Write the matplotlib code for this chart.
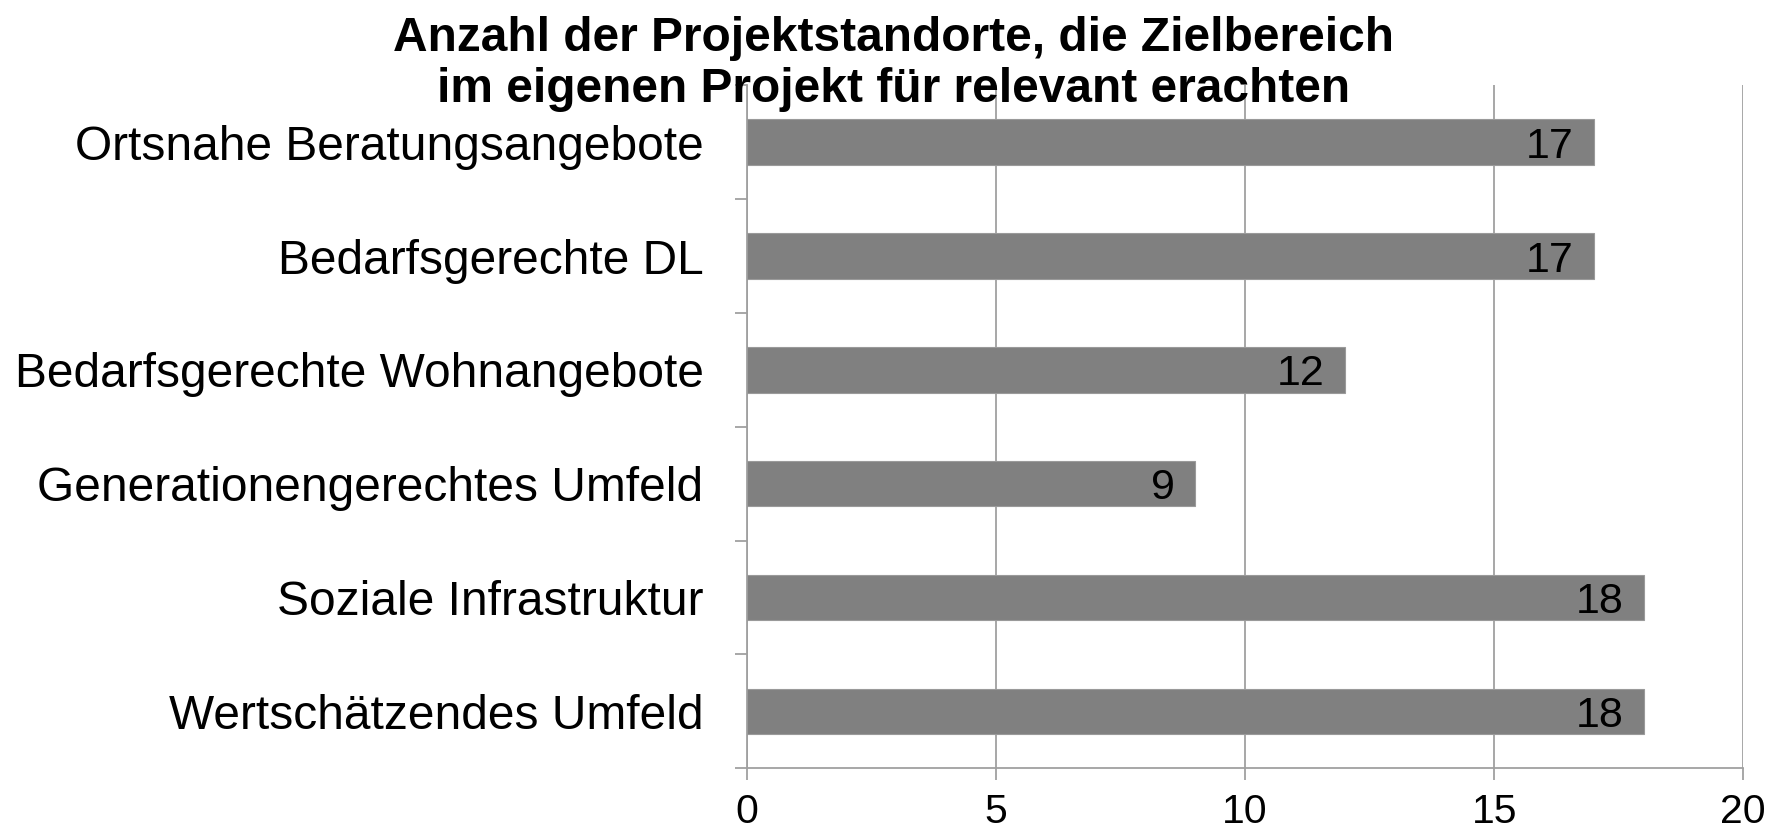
import matplotlib
matplotlib.use("Agg")
import matplotlib.pyplot as plt
from matplotlib.ticker import FixedLocator

categories = [
    "Ortsnahe Beratungsangebote",
    "Bedarfsgerechte DL",
    "Bedarfsgerechte Wohnangebote",
    "Generationengerechtes Umfeld",
    "Soziale Infrastruktur",
    "Wertschätzendes Umfeld",
]
values = [17, 17, 12, 9, 18, 18]
xticks = [0, 5, 10, 15, 20]
title = "Anzahl der Projektstandorte, die Zielbereich\nim eigenen Projekt für relevant erachten"

plt.rcParams['font.family'] = ['Liberation Sans', 'DejaVu Sans']

fig = plt.figure(figsize=(17.88, 8.36), dpi=100)
ax = fig.add_axes([0.4176, 0.081, 0.975 - 0.4176, 0.898 - 0.081])

grid_c = '#a0a0a0'
ypos = list(range(len(categories)))
bars = ax.barh(ypos, values, height=0.4, color='#808080', edgecolor='#9a9a9a',
               linewidth=0.8, zorder=3)

ax.set_xlim(0, 20)
ax.set_ylim(len(categories) - 0.5, -0.5)

ax.set_xticks(xticks)
ax.set_xticklabels([str(t) for t in xticks])
ax.xaxis.grid(True, color=grid_c, linewidth=1.3, zorder=0)
ax.set_axisbelow(True)

ax.set_yticks(ypos)
ax.set_yticklabels(categories)
ax.yaxis.set_minor_locator(FixedLocator([i - 0.5 for i in range(len(categories) + 1)]))

ax.tick_params(axis='y', which='major', length=0, pad=31, labelsize=34.5)
ax.tick_params(axis='y', which='minor', length=8.6, width=1.3, color=grid_c)
ax.tick_params(axis='x', which='major', length=8.6, width=1.3, color=grid_c,
               labelsize=29.5, pad=9.5)

for s in ['top', 'right']:
    ax.spines[s].set_visible(False)
for s in ['left', 'bottom']:
    ax.spines[s].set_color(grid_c)
    ax.spines[s].set_linewidth(1.3)

for y, v in zip(ypos, values):
    ax.text(v - 0.4, y, str(v), ha='right', va='center_baseline', fontsize=31,
            color='black', zorder=4)

fig.text(0.4995, 0.924, title, ha='center', va='center', fontsize=34.5,
         fontweight='bold', linespacing=1.17)

fig.savefig("out.png", dpi=100)
